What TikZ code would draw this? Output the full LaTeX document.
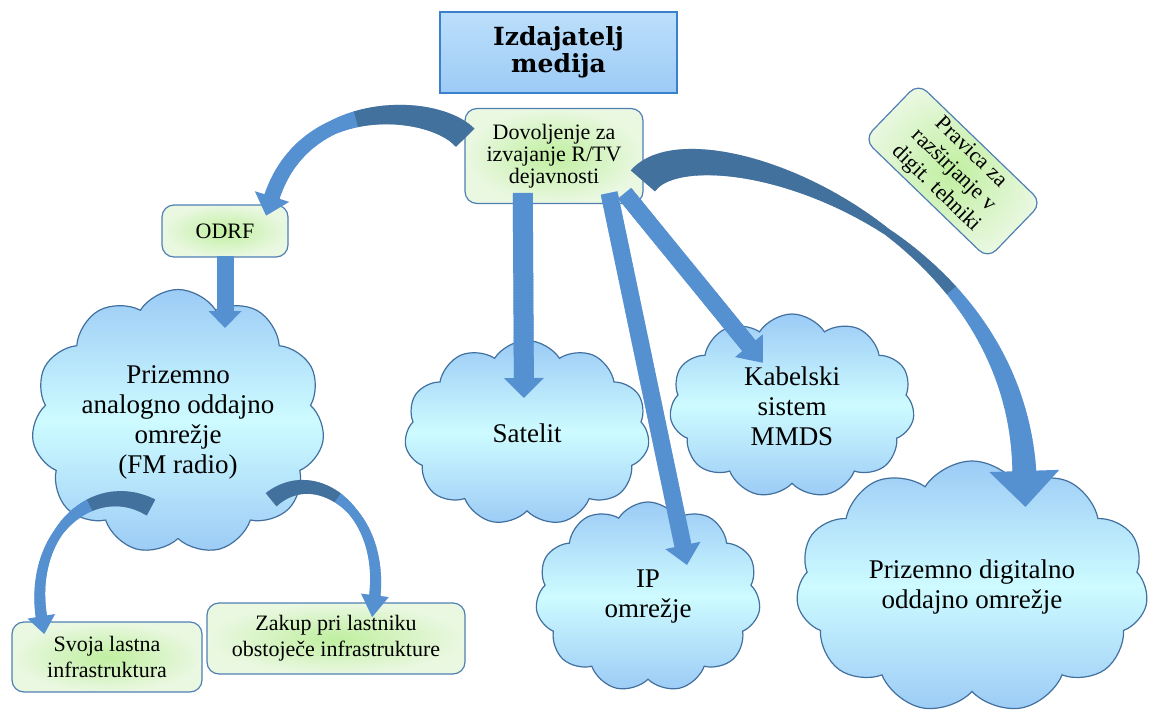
\documentclass[tikz,border=0pt]{standalone}
\usepackage{fontspec}
\setmainfont{Liberation Serif}
\newfontfamily\titlefont{DejaVu Serif}
\usetikzlibrary{shapes.symbols,decorations.markings}

\definecolor{arrmid}{HTML}{5590D0}
\definecolor{arrdark}{HTML}{41719C}
\definecolor{cloudtop}{HTML}{9CCBF6}
\definecolor{cloudmid}{HTML}{CDFBFF}
\definecolor{cloudline}{HTML}{41709F}
\definecolor{boxin}{HTML}{C0EFA0}
\definecolor{boxout}{HTML}{EAF8E2}
\definecolor{boxline}{HTML}{4F7FB3}
\definecolor{titletop}{HTML}{BCDFFB}
\definecolor{titlemid}{HTML}{D8ECFC}
\definecolor{titlebot}{HTML}{9CCBF6}
\definecolor{titleline}{HTML}{3A80CC}

\begin{document}
\begin{tikzpicture}[x=0.5pt, y=-0.5pt,
    oblak/.style={cloud, cloud puffs=11, cloud puff arc=115, cloud ignores aspect,
      draw=cloudline, line width=0.6pt,
      top color=cloudtop, bottom color=cloudtop, middle color=cloudmid,
      inner sep=0pt, align=center, font=\fontsize{13.5}{15}\selectfont},
    polje/.style={rectangle, rounded corners=6pt, draw=boxline, line width=0.6pt,
      inner color=boxin, outer color=boxout, inner sep=0pt, align=center,
      font=\fontsize{11}{11}\selectfont},
    naslov/.style={rectangle, draw=titleline, line width=0.9pt,
      top color=titletop, middle color=titlemid, bottom color=titlebot,
      align=center, font=\titlefont\bfseries\fontsize{12.5}{13.5}\selectfont}]
    \tikzset{arr w0/.store in=\arrwa, arr wm/.store in=\arrwm, arr w1/.store in=\arrwb,
      arr tm/.store in=\arrtm, arr tc/.store in=\arrtc,
      arr hw/.store in=\arrhw, arr hl/.store in=\arrhl,
      arr w0=4, arr wm=4, arr w1=4, arr tm=0.5, arr tc=0, arr hw=9, arr hl=10}
    \tikzset{blockarr/.style={postaction=decorate, decoration={markings,
      mark=between positions 0 and -\arrhl*1pt+1pt step 0.8pt with {%
        \pgfmathsetmacro\arrt{\pgfkeysvalueof{/pgf/decoration/mark info/distance from start}/\pgfdecoratedpathlength}%
        \pgfmathsetmacro\arrw{\arrt<\arrtm ? \arrwa+(\arrwm-\arrwa)*\arrt/\arrtm : \arrwm+(\arrwb-\arrwm)*(\arrt-\arrtm)/(1-\arrtm)}%
        \ifdim\arrt pt<\arrtc pt\def\arrcol{arrdark}\else\def\arrcol{arrmid}\fi
        \fill[\arrcol] ({-0.6pt},{-\arrw*1pt}) rectangle ({0.6pt},{\arrw*1pt});},
      mark=at position -\arrhl*1pt+1.5pt with {\fill[arrmid] (-1.5pt,{\arrhw*1pt}) -- ({\arrhl*1pt-1.5pt},0pt) -- (-1.5pt,{-\arrhw*1pt}) -- cycle;}}}}

    \useasboundingbox (0,0) rectangle (1155,722);

    % oblaki
    \node[oblak, minimum width=176pt, minimum height=126pt] (dig) at (972,587) {Prizemno digitalno\\oddajno omrežje};
    \node[oblak, minimum width=112.5pt, minimum height=95pt] (ip) at (648,597) {IP\\omrežje};
    \node[oblak, minimum width=122.5pt, minimum height=92.5pt] (sat) at (527,433) {Satelit};
    \node[oblak, minimum width=122.5pt, minimum height=92pt] (kab) at (792,406) {Kabelski\\sistem\\MMDS};
    \node[oblak, minimum width=146.5pt, minimum height=132.5pt] (ana) at (178,422) {Prizemno\\analogno oddajno\\omrežje\\(FM radio)};

    % okvirji
    \node[naslov, minimum width=118.5pt, minimum height=40.5pt] (izd) at (558.5,52.5) {Izdajatelj\\medija};
    \node[polje, minimum width=89pt, minimum height=47.5pt] (dov) at (554,156) {Dovoljenje za\\izvajanje R/TV\\dejavnosti};
    \node[polje, minimum width=63pt, minimum height=26pt] (odrf) at (225,231) {ODRF};
    \node[polje, minimum width=86pt, minimum height=39pt, rotate=-44, font=\fontsize{11}{12.5}\selectfont] (prav) at (953,171) {Pravica za\\razširjanje v\\digit. tehniki};
    \node[polje, minimum width=95pt, minimum height=35pt, font=\fontsize{11}{13}\selectfont] (svo) at (107,657) {Svoja lastna\\infrastruktura};
    \node[polje, minimum width=129pt, minimum height=35.5pt, font=\fontsize{11}{13}\selectfont] (zak) at (336,638.5) {Zakup pri lastniku\\obstoječe infrastrukture};

    \coordinate (ana-in) at (221,328);
    \coordinate (sat-in) at (524,398);
    \coordinate (ip-in) at (687,565);
    \coordinate (kab-in) at (763,363);
    \coordinate (dig-in) at (1024,502);
    \coordinate (odrf-in) at (267,216);
    \coordinate (svo-in) at (45,634);
    \coordinate (zak-in) at (371,617);

    % puscice
    \path[blockarr, arr w0=4.25, arr wm=4.25, arr w1=4.25, arr hw=8.25, arr hl=8.5] (odrf.south) -- (odrf.south |- ana-in);
    \path[blockarr, arr w0=5, arr wm=5, arr w1=5, arr hw=10, arr hl=10] ([yshift=5pt]dov.-123) -- (sat-in);
    \path[blockarr, arr w0=4.25, arr wm=4.25, arr w1=4.25, arr hw=9, arr hl=10] ([yshift=5pt]dov.-41) -- (ip-in);
    \path[blockarr, arr w0=4.25, arr wm=4.25, arr w1=4.25, arr hw=9, arr hl=11] ([yshift=5pt]dov.-34) -- (kab-in);
    \path[blockarr, arr w0=6.5, arr wm=3.5, arr tm=0.55, arr w1=4, arr tc=0.45, arr hw=9, arr hl=10]
      (dov.168) .. controls (430,102) and (290,95) .. (odrf-in);
    \path[blockarr, arr w0=8, arr wm=1.75, arr tm=0.45, arr w1=6.5, arr tc=0.6, arr hw=17.5, arr hl=18]
      (dov.-15) .. controls (700,115) and (1040,230) .. (dig-in);
    \path[blockarr, arr w0=4.5, arr wm=2.25, arr tm=0.5, arr w1=3, arr tc=0.3, arr hw=7, arr hl=9]
      ([shift={(-28,85)}]ana.center) .. controls (90,475) and (20,540) .. (svo-in);
    \path[blockarr, arr w0=4.25, arr wm=2.25, arr tm=0.45, arr w1=3, arr tc=0.35, arr hw=7, arr hl=11]
      ([shift={(94,77)}]ana.center) .. controls (320,460) and (395,520) .. (zak-in);
\end{tikzpicture}
\end{document}
